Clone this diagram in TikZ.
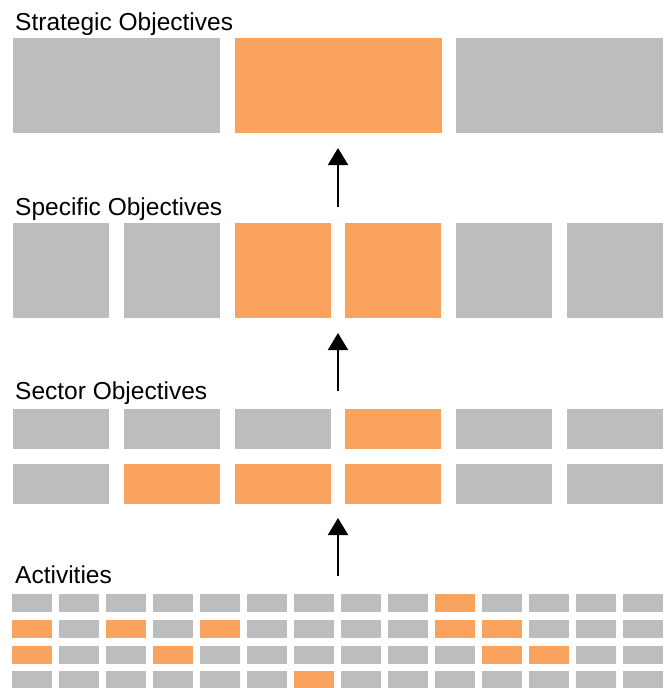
\documentclass[tikz,border=0pt]{standalone}
\usepackage{fontspec}
\setmainfont{Liberation Sans}
\usetikzlibrary{arrows.meta}
\definecolor{boxgray}{HTML}{BCBDBF}
\definecolor{boxorange}{HTML}{F9A35F}
\tikzset{
  blk/.style={inner sep=0pt, outer sep=0pt, draw=none, anchor=north west},
  label/.style={anchor=base west, inner sep=0pt, font=\fontsize{24.5}{28}\selectfont, text=black},
  uparrow/.style={line width=2pt, -{Triangle[width=20pt,length=17pt]}},
}
\begin{document}
\begin{tikzpicture}[x=1pt,y=-1pt]
\useasboundingbox (0,0) rectangle (668,688);
% labels
\node[label] (lstrat) at (15,30) {Strategic Objectives};
\node[label] (lspec) at (15,215) {Specific Objectives};
\node[label] (lsect) at (15,399) {Sector Objectives};
\node[label] (lact) at (15,583) {Activities};
% strategic
\foreach \i/\c in {0/boxgray,1/boxorange,2/boxgray}{
  \node[blk, fill=\c, minimum width=207pt, minimum height=94.5pt] (st\i) at ({13+221.5*\i},38) {};
}
% specific
\foreach \i/\c in {0/boxgray,1/boxgray,2/boxorange,3/boxorange,4/boxgray,5/boxgray}{
  \node[blk, fill=\c, minimum width=96pt, minimum height=94.5pt] (sp\i) at ({13+110.8*\i},223) {};
}
% sector
\foreach \i/\c in {0/boxgray,1/boxgray,2/boxgray,3/boxorange,4/boxgray,5/boxgray}{
  \node[blk, fill=\c, minimum width=96pt, minimum height=39.5pt] (sa\i) at ({13+110.8*\i},409) {};
}
\foreach \i/\c in {0/boxgray,1/boxorange,2/boxorange,3/boxorange,4/boxgray,5/boxgray}{
  \node[blk, fill=\c, minimum width=96pt, minimum height=39.5pt] (sb\i) at ({13+110.8*\i},464) {};
}
% activities
\foreach \r/\y/\olist in {0/594/{9},1/620/{0,2,4,9,10},2/645.5/{0,3,10,11},3/671/{6}}{
  \foreach \k in {0,...,13}{
    \def\col{boxgray}
    \foreach \o in \olist{\ifnum\o=\k\global\def\gcol{1}\fi}
    \ifdefined\gcol\def\col{boxorange}\global\let\gcol\undefined\fi
    \node[blk, fill=\col, minimum width=40pt, minimum height=18pt] (a\r-\k) at ({12+47*\k},\y) {};
  }
}
% arrows
\coordinate (a1s) at (338,207);
\coordinate (a1e) at (338,148);
\coordinate (a2s) at (338,391);
\coordinate (a2e) at (338,333);
\coordinate (a3s) at (338,576);
\coordinate (a3e) at (338,518);
\draw[uparrow] (a1s) -- (a1e);
\draw[uparrow] (a2s) -- (a2e);
\draw[uparrow] (a3s) -- (a3e);
\end{tikzpicture}
\end{document}
